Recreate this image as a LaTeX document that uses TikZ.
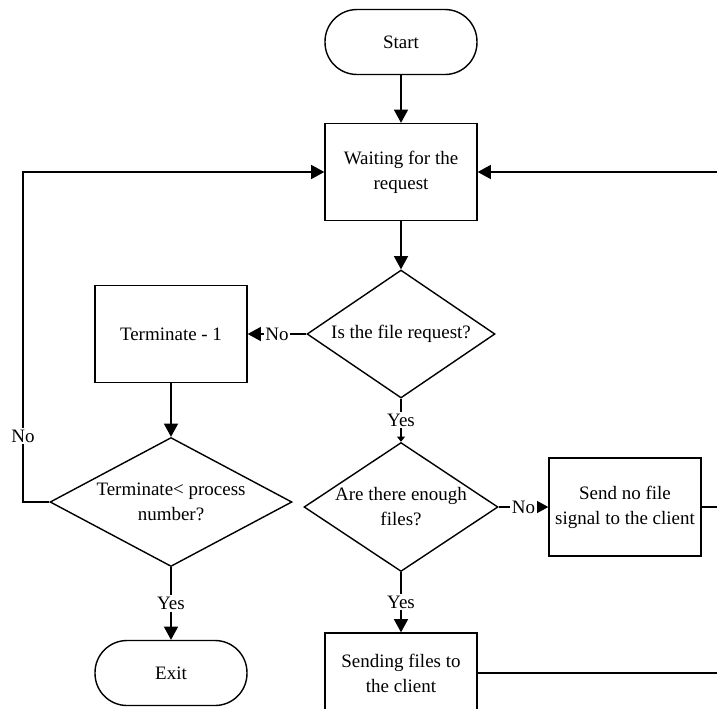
\documentclass[tikz,border=0pt]{standalone}
\usepackage{fontspec}
\setmainfont{Liberation Serif}
\usetikzlibrary{arrows.meta,shapes.geometric}
\begin{document}
\begin{tikzpicture}[x=0.02cm,y=-0.02cm,
  font=\fontsize{10.8}{14.2}\selectfont,line width=0.8pt,
  arr/.style={-{Triangle[length=7.5pt,width=8pt]}},
  tinyarr/.style={-{Triangle[length=3pt,width=4.5pt]}},
  proc/.style={draw,rectangle,align=center,minimum width=3.04cm,minimum height=1.94cm},
  term/.style={draw,rectangle,rounded corners=0.64cm,minimum width=3.04cm,minimum height=1.3cm},
  decide/.style={draw,diamond,align=center,inner sep=0pt},
  lbl/.style={fill=white,inner sep=1pt}]
  \useasboundingbox (0,0) rectangle (717,708);
  \node[term] (start) at (401,42) {Start};
  \node[proc] (wait) at (401,172) {Waiting for the\\request};
  \node[decide,minimum width=3.76cm,minimum height=2.56cm,shape aspect=1.47] (isfile) at (401,334) {Is the file request?};
  \node[proc] (minus) at (171,334) {Terminate - 1};
  \node[decide,minimum width=4.84cm,minimum height=2.58cm,shape aspect=1.88] (cmp) at (171,502) {Terminate< process\\number?};
  \node[term] (exit) at (171,673) {Exit};
  \node[decide,minimum width=3.88cm,minimum height=2.58cm,shape aspect=1.5] (enough) at (401,507) {Are there enough\\files?};
  \node[proc,minimum height=1.96cm] (nofile) at (625,507) {Send no file\\signal to the client};
  \node[proc,minimum height=1.6cm] (sendf) at (401,673) {Sending files to\\the client};
  \coordinate (lft) at (23,172);
  \coordinate (rt1) at (720,172);
  \coordinate (rt2) at (720,507);
  \coordinate (rt3) at (720,673);
  \draw[arr] (start) -- (wait);
  \draw[arr] (wait) -- (isfile);
  \draw[arr] (isfile) -- node[lbl] {No} (minus);
  \draw[tinyarr] (isfile) -- node[lbl] {Yes} (enough);
  \draw[arr] (minus) -- (cmp);
  \draw[arr] (cmp) -- node[lbl] {Yes} (exit);
  \draw[arr] (cmp.west) -| node[lbl,pos=0.6] {No} (lft) -- (wait.west);
  \draw[arr] (enough) -- node[lbl] {No} (nofile);
  \draw[arr] (enough) -- node[lbl] {Yes} (sendf);
  \draw[arr] (rt1) -- (wait.east);
  \draw (nofile.east) -- (rt2);
  \draw (sendf.east) -- (rt3);
\end{tikzpicture}
\end{document}
